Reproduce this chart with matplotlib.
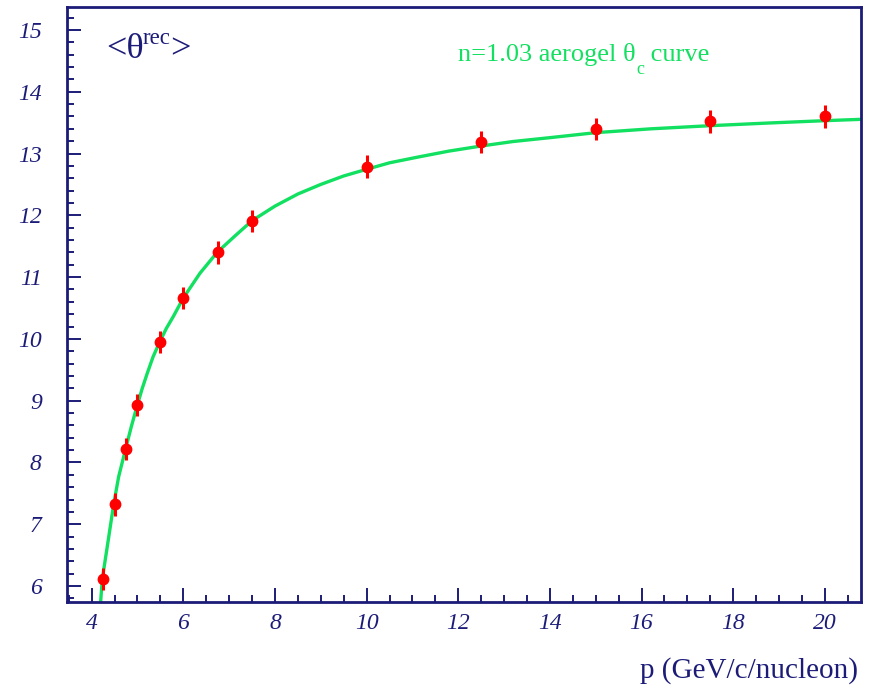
import matplotlib
matplotlib.use("Agg")
import matplotlib.pyplot as plt
from matplotlib.ticker import MultipleLocator

# Data points (p in GeV/c/nucleon, mean reconstructed angle in degrees)
p_data = [4.25, 4.5, 4.75, 5.0, 5.5, 6.0, 6.75, 7.5, 10.0, 12.5, 15.0, 17.5, 20.0]
theta_data = [6.11, 7.32, 8.22, 8.93, 9.95, 10.66, 11.40, 11.91, 12.79, 13.19, 13.40, 13.52, 13.60]
theta_err = [0.18, 0.18, 0.18, 0.18, 0.18, 0.18, 0.18, 0.18, 0.18, 0.18, 0.18, 0.18, 0.18]

# Aerogel theta_c curve
p_curve = [4.196, 4.232, 4.34, 4.48, 4.589, 4.742, 4.865, 4.995, 5.1, 5.213, 5.34, 5.484,
           5.63, 5.78, 6.0, 6.363, 6.74, 7.127, 7.5, 8.0, 8.5, 9.0, 9.5, 10.0, 10.5,
           11.1, 11.8, 12.5, 13.2, 14.0, 15.0, 16.2, 17.5, 18.8, 20.0, 20.8]
theta_curve = [5.746, 6.114, 6.636, 7.322, 7.770, 8.223, 8.579, 8.925, 9.19, 9.443, 9.71,
               9.950, 10.17, 10.36, 10.662, 11.062, 11.402, 11.666, 11.913, 12.149,
               12.345, 12.50, 12.637, 12.745, 12.85, 12.94, 13.04, 13.122, 13.195,
               13.257, 13.338, 13.40, 13.451, 13.495, 13.532, 13.554]

navy = "#1c1c78"
green = "#12e060"
red = "#ff0000"

plt.rcParams["font.family"] = ["Liberation Serif", "DejaVu Serif"]

fig = plt.figure(figsize=(8.83, 6.86), dpi=100)
ax = fig.add_axes([66.7 / 883, 1 - 601.7 / 686, (861 - 66.7) / 883, (601.7 - 7) / 686])

ax.plot(p_curve, theta_curve, color=green, lw=2.4, zorder=2, solid_joinstyle="round")
ax.errorbar(p_data, theta_data, yerr=theta_err, fmt="o", color=red, ms=7.5,
            elinewidth=2.2, capsize=0, zorder=3)

ax.set_xlim(3.455, 20.79)
ax.set_ylim(5.746, 15.372)

ax.xaxis.set_major_locator(MultipleLocator(2))
ax.xaxis.set_minor_locator(MultipleLocator(0.5))
ax.yaxis.set_major_locator(MultipleLocator(1))
ax.yaxis.set_minor_locator(MultipleLocator(0.2))

ax.tick_params(which="both", direction="in", color=navy, top=False, right=False,
               labelcolor=navy)
ax.tick_params(which="major", length=10, width=1.4)
ax.tick_params(which="minor", length=5, width=1.4)
ax.tick_params(axis="y", which="major", pad=18)
ax.tick_params(axis="x", which="major", pad=8)
for lab in ax.get_xticklabels() + ax.get_yticklabels():
    lab.set_fontstyle("italic")
    lab.set_fontsize(17)

for s in ax.spines.values():
    s.set_color(navy)
    s.set_linewidth(2)

# Label <theta^rec>
t1 = ax.text(106 / 883, 1 - 58 / 686, "<θ", transform=fig.transFigure, fontsize=26,
             color=navy, ha="left", va="baseline")
t2 = ax.annotate("rec", xy=(1.0, 0.0), xycoords=t1, xytext=(-0.5, 15.5),
                 textcoords="offset points", fontsize=16.5, color=navy,
                 ha="left", va="baseline")
ax.annotate(">", xy=(1.0, 0.0), xycoords=(t2, t1), xytext=(-0.5, 0),
            textcoords="offset points", fontsize=26, color=navy,
            ha="left", va="bottom")

# Green legend text
g1 = ax.text(458 / 883, 1 - 61 / 686, "n=1.03 aerogel θ", transform=fig.transFigure,
             fontsize=19, color=green, ha="left", va="baseline")
g2 = ax.annotate("c", xy=(1.0, 0.0), xycoords=g1, xytext=(0.5, -6),
                 textcoords="offset points", fontsize=13, color=green,
                 ha="left", va="baseline")
ax.annotate(" curve", xy=(1.0, 0.0), xycoords=(g2, g1), xytext=(0, 0),
            textcoords="offset points", fontsize=19, color=green,
            ha="left", va="bottom")

fig.text(858 / 883, 1 - 678 / 686, "p (GeV/c/nucleon)", fontsize=21, color=navy,
         ha="right", va="baseline")

fig.savefig("out.png", dpi=100)
